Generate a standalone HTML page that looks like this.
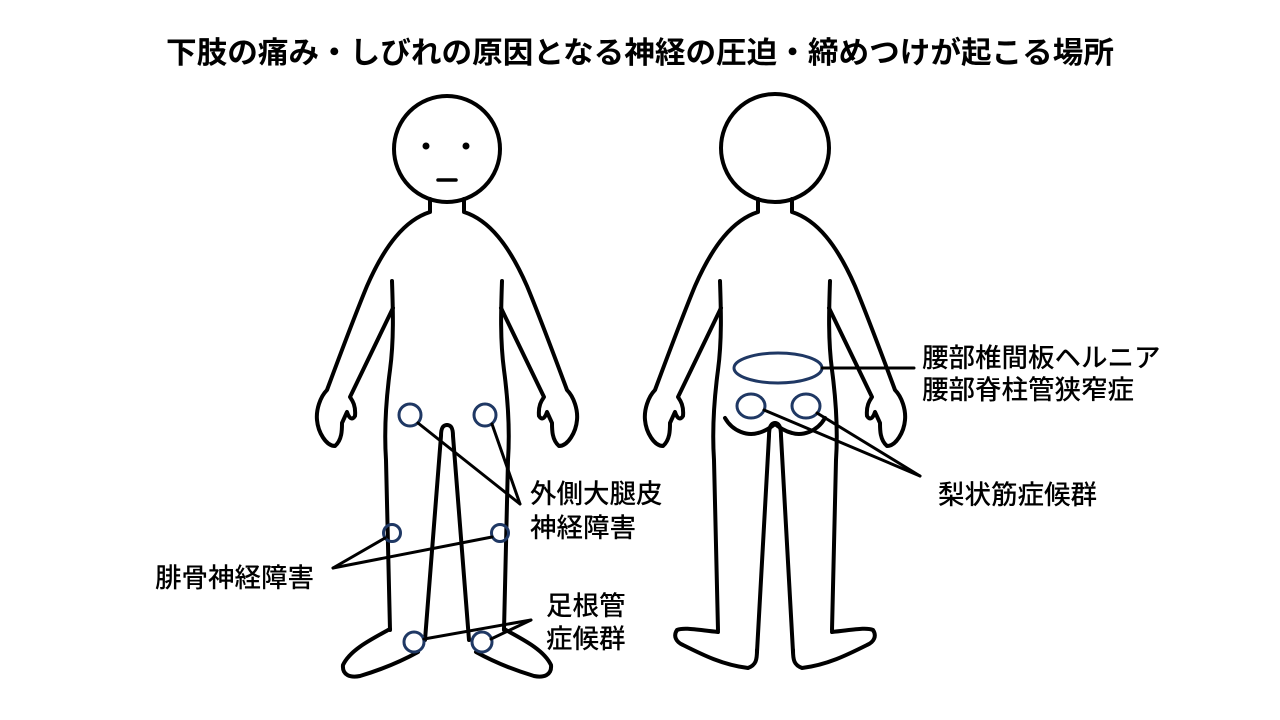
<!DOCTYPE html>
<html><head><meta charset="utf-8"><style>
html,body{margin:0;padding:0;background:#fff;}
svg{display:block;}
text{font-family:"Liberation Sans","Noto Sans CJK JP",sans-serif;fill:#000;}
.l{font-size:26.5px;font-weight:500;}
</style></head><body>
<svg width="1280" height="720" viewBox="0 0 1280 720" xmlns="http://www.w3.org/2000/svg">
<text x="640" y="63" text-anchor="middle" textLength="948" lengthAdjust="spacingAndGlyphs" style="font-size:30px;font-weight:bold">下肢の痛み・しびれの原因となる神経の圧迫・締めつけが起こる場所</text>
<defs>
<g id="arm">
<path d="M430 199 L430 212 C405 220 385 245 367 286 C355 315 340 355 327 390 C320 397 316 410 317 420 C318 432 326 446 335 446 C342 440 342 430 342 423 L347 412 C349 418 352 421 355 416 C356 405 352 400 350 397 L393 308"/>
<path d="M392 281 C393 310 394 340 390 370 C386 400 384 430 386 460 L390 630"/>
</g>
<g id="ffoot">
<path d="M390 629 C370 640 350 650 343 665 C342 675 350 678 360 676 C380 670 400 662 418 652"/>
<path d="M447 425 C442 425 441 430 441 436 L425 640"/>
</g>
<g id="bfoot">
<path d="M390 632 C370 630 356 627 349 630 C345 636 348 642 355 645 C375 655 395 665 420 668 C428 665 429 660 429 650"/>
<path d="M447 423 C442 423 441 430 441 436 L429 652"/>
<path d="M397 418 C405 432 420 436 430 433 C438 431 443 427 447 424"/>
</g>
</defs>
<g fill="none" stroke="#000" stroke-width="4" stroke-linecap="round" stroke-linejoin="round">
<circle cx="447" cy="149" r="53" fill="#fff"/>
<use href="#arm"/><use href="#ffoot"/>
<g transform="translate(894 0) scale(-1 1)"><use href="#arm"/><use href="#ffoot"/></g>
<circle cx="775" cy="148" r="54" fill="#fff"/>
<g transform="translate(328 0)"><use href="#arm"/><use href="#bfoot"/></g>
<g transform="translate(1222 0) scale(-1 1)"><use href="#arm"/><use href="#bfoot"/></g>
</g>
<circle cx="426" cy="146" r="3.5"/><circle cx="466" cy="146" r="3.5"/>
<line x1="438" y1="180" x2="456" y2="180" stroke="#000" stroke-width="3.5" stroke-linecap="round"/>
<g fill="none" stroke="#1f3864" stroke-width="3">
<circle cx="410" cy="415" r="11"/><circle cx="485" cy="415" r="11"/>
<circle cx="392" cy="533" r="8.5"/><circle cx="500" cy="533" r="8.5"/>
<circle cx="414" cy="642" r="10"/><circle cx="482" cy="642" r="10"/>
<ellipse cx="778" cy="368" rx="44" ry="15"/>
<ellipse cx="751" cy="406" rx="14" ry="12"/><ellipse cx="806" cy="406" rx="14" ry="12"/>
</g>
<g stroke="#000" stroke-width="3" stroke-linecap="round">
<line x1="418" y1="423" x2="520" y2="504"/><line x1="492" y1="424" x2="520" y2="504"/>
<line x1="385" y1="538" x2="333" y2="568"/><line x1="492" y1="537" x2="333" y2="568"/>
<line x1="424" y1="639" x2="531" y2="620"/><line x1="491" y1="639" x2="531" y2="620"/>
<line x1="822" y1="368" x2="914" y2="368"/>
<line x1="764" y1="410" x2="920" y2="476"/><line x1="817" y1="413" x2="920" y2="476"/>
</g>
<text class="l" x="530" y="503">外側大腿皮</text>
<text class="l" x="530" y="537">神経障害</text>
<text class="l" x="155" y="587">腓骨神経障害</text>
<text class="l" x="546" y="615">足根管</text>
<text class="l" x="546" y="648">症候群</text>
<text class="l" x="922" y="367">腰部椎間板ヘルニア</text>
<text class="l" x="922" y="399">腰部脊柱管狭窄症</text>
<text class="l" x="938" y="504">梨状筋症候群</text>
</svg>
</body></html>
